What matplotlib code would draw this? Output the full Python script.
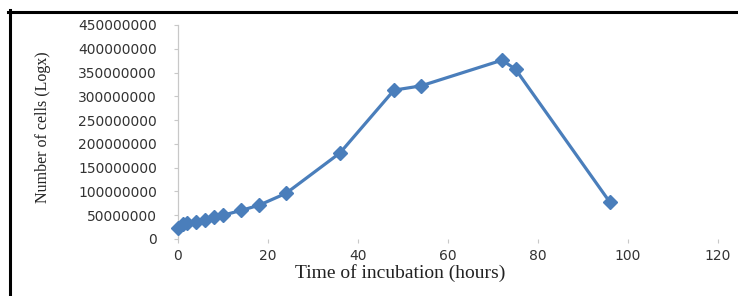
import numpy as np
import matplotlib.pyplot as plt
from matplotlib.lines import Line2D

plt.rcParams["font.family"] = "DejaVu Sans"

# incubation time (hours) and cell counts
hours = np.array([0, 1, 2, 4, 6, 8, 10, 14, 18, 24, 36, 48, 54, 72, 75, 96], dtype=float)
cells = np.array([24e6, 32e6, 33e6, 36e6, 41e6, 46e6, 50e6, 60e6, 71e6, 96e6,
                  181e6, 313e6, 322e6, 376e6, 357e6, 77e6])

xticks = [0, 20, 40, 60, 80, 100, 120]
yticks = np.arange(0, 450e6 + 1, 50e6)

W, H = 738, 296
fig = plt.figure(figsize=(W / 100, H / 100), dpi=100)
ax = fig.add_axes([178 / W, 1 - 239 / H, (718 - 178) / W, (239 - 25) / H])

blue = "#4A7EBB"
ax.plot(hours, cells, color=blue, lw=2.3, marker="D", ms=7,
        markerfacecolor=blue, markeredgecolor=blue, clip_on=False, zorder=3)

ax.set_xlim(0, 120)
ax.set_ylim(0, 450e6)
ax.set_xticks(xticks)
ax.set_yticks(yticks)
ax.set_yticklabels(["%d" % v for v in yticks])

for s in ["top", "right", "bottom"]:
    ax.spines[s].set_visible(False)
ax.spines["left"].set_color("#C8C8C8")
ax.spines["left"].set_linewidth(0.9)

ax.tick_params(axis="y", direction="out", length=3, width=0.8, color="#C8C8C8",
               pad=12, labelsize=10, labelcolor="#333333")
ax.tick_params(axis="x", direction="out", length=3, width=0.8, color="#C8C8C8",
               pad=4, labelsize=10, labelcolor="#333333")

fig.text(400 / W, 1 - 273 / H, "Time of incubation (hours)", family="Liberation Serif",
         fontsize=14, color="#222222", ha="center", va="center")
fig.text(43 / W, 1 - 127 / H, "Number of cells (Logx)", family="Liberation Serif",
         fontsize=11.5, color="#222222", ha="center", va="center", rotation=90)

# black frame on the left and top edges
fig.add_artist(Line2D([9.5 / W, 9.5 / W], [0, 1 - 10 / H], color="black", lw=2.2,
                      transform=fig.transFigure))
fig.add_artist(Line2D([8 / W, 1], [1 - 11.5 / H, 1 - 11.5 / H], color="black", lw=2.2,
                      transform=fig.transFigure))

fig.savefig("out.png", dpi=100)
